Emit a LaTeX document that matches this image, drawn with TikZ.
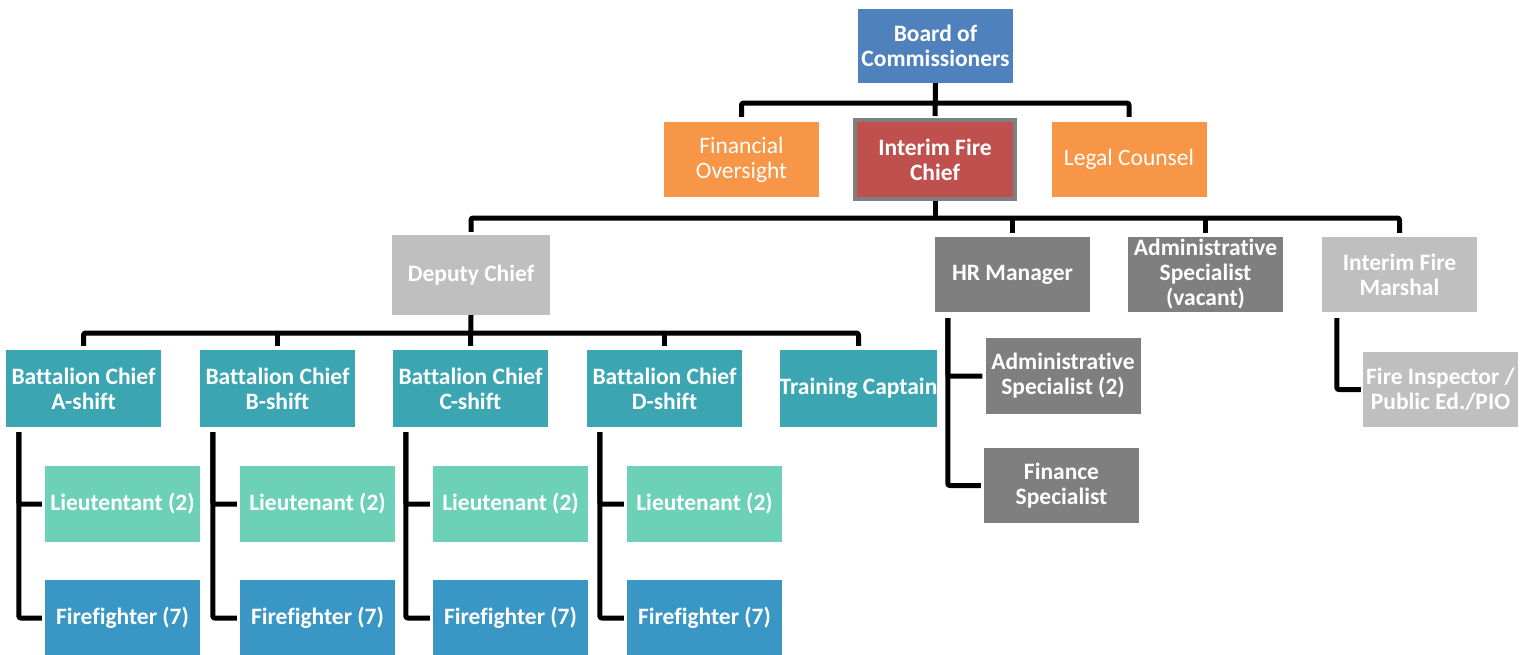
\documentclass[tikz,border=0pt]{standalone}
\usepackage{fontspec}
\setmainfont{Carlito}[Ligatures=NoCommon]
\definecolor{cBlue}{HTML}{4F81BD}
\definecolor{cOrange}{HTML}{F79646}
\definecolor{cRed}{HTML}{C0504D}
\definecolor{cGrayDark}{HTML}{7F7F7F}
\definecolor{cGrayLight}{HTML}{BFBFBF}
\definecolor{cTeal}{HTML}{3BA6B2}
\definecolor{cMint}{HTML}{6DD1B7}
\definecolor{cFire}{HTML}{3A96C4}
\begin{document}
\begin{tikzpicture}[x=1pt,y=-1pt,
  box/.style={rectangle, minimum width=155pt, minimum height=75pt, inner sep=0pt,
    align=center, text=white, font=\fontsize{23.5}{25}\selectfont\bfseries},
  regbox/.style={box, font=\fontsize{23.5}{25}\selectfont},
  conn/.style={line width=5pt, line join=round, rounded corners=2pt}]
\useasboundingbox (0,0) rectangle (1531,654);
% top levels
\node[box, fill=cBlue, minimum height=74pt] (board) at (935.5,46) {Board of\\Commissioners};
\node[regbox, fill=cOrange] (fin) at (741.5,159.5) {Financial\\Oversight};
\node[box, fill=cRed, draw=cGrayDark, line width=4pt, minimum width=160pt, minimum height=79pt] (chief) at (935,159.5) {Interim Fire\\Chief};
\node[regbox, fill=cOrange] (legal) at (1129,159.5) {Legal Counsel};
\node[box, fill=cGrayLight, minimum width=158pt, minimum height=80pt] (deputy) at (471,275) {Deputy Chief};
\node[box, fill=cGrayDark] (hr) at (1012.5,274.5) {HR Manager};
\node[box, fill=cGrayDark] (adm) at (1205.5,274.5) {Administrative\\Specialist\\(vacant)};
\node[box, fill=cGrayLight] (marshal) at (1399.5,274.5) {Interim Fire\\Marshal};
% battalions
\node[box, fill=cTeal, minimum height=77pt] (bcA) at (83.5,388.5) {Battalion Chief\\A-shift};
\node[box, fill=cTeal, minimum height=77pt] (bcB) at (277.5,388.5) {Battalion Chief\\B-shift};
\node[box, fill=cTeal, minimum height=77pt] (bcC) at (470.5,388.5) {Battalion Chief\\C-shift};
\node[box, fill=cTeal, minimum height=77pt] (bcD) at (664.5,388.5) {Battalion Chief\\D-shift};
\node[box, fill=cTeal, minimum height=77pt] (train) at (858.5,388.5) {Training Captain};
\node[box, fill=cMint, minimum height=76pt] (ltA) at (122.5,504) {Lieutentant (2)};
\node[box, fill=cMint, minimum height=76pt] (ltB) at (317.5,504) {Lieutenant (2)};
\node[box, fill=cMint, minimum height=76pt] (ltC) at (510.5,504) {Lieutenant (2)};
\node[box, fill=cMint, minimum height=76pt] (ltD) at (704.5,504) {Lieutenant (2)};
\node[box, fill=cFire, minimum height=76pt] (ffA) at (122.5,618) {Firefighter (7)};
\node[box, fill=cFire, minimum height=76pt] (ffB) at (317.5,618) {Firefighter (7)};
\node[box, fill=cFire, minimum height=76pt] (ffC) at (510.5,618) {Firefighter (7)};
\node[box, fill=cFire, minimum height=76pt] (ffD) at (704.5,618) {Firefighter (7)};
% HR and marshal subordinates
\node[box, fill=cGrayDark, minimum height=76pt] (adm2) at (1063,376) {Administrative\\Specialist (2)};
\node[box, fill=cGrayDark] (finsp) at (1061.5,485.5) {Finance\\Specialist};
\node[box, fill=cGrayLight] (insp) at (1440.5,389.5) {Fire Inspector /\\Public Ed./PIO};
% bars
\coordinate (b1) at (935.5,103);
\coordinate (b2) at (935,218);
\coordinate (b3) at (471,333);
% connectors
\draw[conn] ([yshift=5pt]fin.north) |- (b1) -| ([yshift=5pt]legal.north);
\draw[conn] (board.south) -- ([yshift=2pt]chief.north);
\draw[conn] (chief.south) -- (b2);
\draw[conn] ([yshift=3pt]deputy.north) |- (b2) -| ([yshift=4pt]marshal.north);
\draw[conn] (b2 -| hr.north) -- ([yshift=4pt]hr.north);
\draw[conn] (b2 -| adm.north) -- ([yshift=4pt]adm.north);
\draw[conn] (deputy.south) -- ([yshift=4pt]bcC.north);
\draw[conn] ([yshift=4pt]bcA.north) |- (b3) -| ([yshift=4pt]train.north);
\draw[conn] (b3 -| bcB.north) -- ([yshift=4pt]bcB.north);
\draw[conn] (b3 -| bcD.north) -- ([yshift=4pt]bcD.north);
\foreach \s in {A,B,C,D}{
  \draw[conn] ([xshift=13pt,yshift=-5pt]bc\s.south west) |- ([xshift=-3pt]lt\s.west);
  \draw[conn] ([xshift=13pt,yshift=-5pt]bc\s.south west) |- ([xshift=-3pt]ff\s.west);
}
\draw[conn] ([xshift=13pt,yshift=-6pt]hr.south west) |- ([xshift=-3pt]adm2.west);
\draw[conn] ([xshift=13pt,yshift=-6pt]hr.south west) |- ([xshift=-3pt]finsp.west);
\draw[conn] ([xshift=15pt,yshift=-6pt]marshal.south west) |- ([xshift=-2pt]insp.west);
\end{tikzpicture}
\end{document}
